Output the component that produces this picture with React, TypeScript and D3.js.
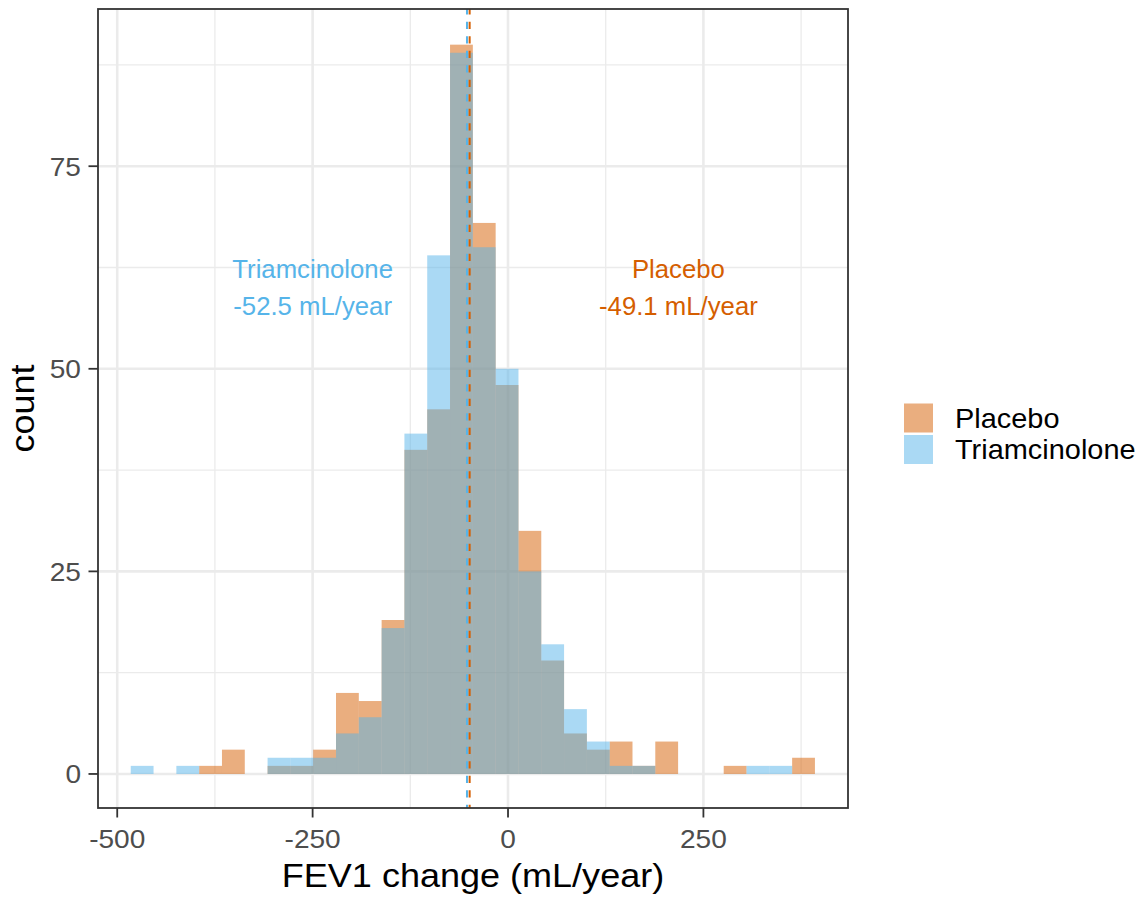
import React from "react";
import * as d3 from "d3";

// Histogram of annual FEV1 change, 30 bins shared by both arms
const BIN_START = -482.7;
const BIN_WIDTH = 29.18;

const GROUPS = ["Placebo", "Triamcinolone"];
const GROUP_COLORS = ["#D55E00", "#56B4E9"];

const PLACEBO_COUNTS = [
  0, 0, 0, 1, 3, 0, 1, 1, 3, 10, 9, 19, 40, 45, 90, 68, 48, 30, 14, 5, 3, 4, 1, 4, 0, 0, 1, 0, 0, 2,
];
const TRIAMCINOLONE_COUNTS = [
  1, 0, 1, 0, 0, 0, 2, 2, 2, 5, 7, 18, 42, 64, 89, 65, 50, 25, 16, 8, 4, 1, 1, 0, 0, 0, 0, 1, 1, 0,
];

// Group means (mL/year) and where their labels sit
const GROUP_MEANS = [-49.1, -52.5];
const LABEL_X = [218, -250];
const LABEL_Y = 60;

const X_TICKS = [-500, -250, 0, 250];
const X_MINOR = [-375, -125, 125, 375];
const Y_TICKS = [0, 25, 50, 75];
const Y_MINOR = [12.5, 37.5, 62.5, 87.5];

const X_TITLE = "FEV1 change (mL/year)";
const Y_TITLE = "count";

const W = 1145;
const H = 902;
const PANEL = { left: 98, right: 848, top: 9, bottom: 808 };
const FONT = "'Liberation Sans', Arial, Helvetica, sans-serif";
const SX = 1.06; // slight horizontal widening of labels

function STxt(props: {
  x: number;
  y: number;
  size: number;
  anchor?: string;
  fill?: string;
  rotate?: number;
  sx?: number;
  children: React.ReactNode;
}) {
  const { x, y, size, anchor = "start", fill = "#000", rotate = 0, sx = SX, children } = props;
  return (
    <text
      transform={`translate(${x},${y}) rotate(${rotate}) scale(${sx},1)`}
      fontSize={size}
      fontFamily={FONT}
      textAnchor={anchor}
      fill={fill}
    >
      {children}
    </text>
  );
}

export default function App() {
  const x = d3.scaleLinear().domain([-524.6, 435]).range([PANEL.left, PANEL.right]);
  const y = d3.scaleLinear().domain([-4.2, 94.4]).range([PANEL.bottom, PANEL.top]);

  const series = [PLACEBO_COUNTS, TRIAMCINOLONE_COUNTS];
  const edges = d3.range(PLACEBO_COUNTS.length + 1).map((i) => BIN_START + i * BIN_WIDTH);

  const grid = "#EBEBEB";

  return (
    <svg
      width={W}
      height={H}
      style={{ position: "absolute", left: 0, top: 0, background: "#fff" }}
    >
      <rect x={0} y={0} width={W} height={H} fill="#fff" />

      {/* grid */}
      <g>
        {X_MINOR.map((v) => (
          <line key={"xm" + v} x1={x(v)} x2={x(v)} y1={PANEL.top} y2={PANEL.bottom} stroke={grid} strokeWidth={1.3} />
        ))}
        {Y_MINOR.map((v) => (
          <line key={"ym" + v} x1={PANEL.left} x2={PANEL.right} y1={y(v)} y2={y(v)} stroke={grid} strokeWidth={1.3} />
        ))}
        {X_TICKS.map((v) => (
          <line key={"xg" + v} x1={x(v)} x2={x(v)} y1={PANEL.top} y2={PANEL.bottom} stroke={grid} strokeWidth={2.6} />
        ))}
        {Y_TICKS.map((v) => (
          <line key={"yg" + v} x1={PANEL.left} x2={PANEL.right} y1={y(v)} y2={y(v)} stroke={grid} strokeWidth={2.6} />
        ))}
      </g>

      {/* histogram bars, semi-transparent and overlapping */}
      {series.map((counts, gi) => (
        <g key={GROUPS[gi]} fill={GROUP_COLORS[gi]} fillOpacity={0.5}>
          {counts.map((c, i) =>
            c > 0 ? (
              <rect
                key={i}
                x={x(edges[i])}
                width={x(edges[i + 1]) - x(edges[i])}
                y={y(c)}
                height={y(0) - y(c)}
              />
            ) : null
          )}
        </g>
      ))}

      {/* group means */}
      {GROUP_MEANS.map((m, gi) => (
        <line
          key={"mean" + gi}
          x1={x(m)}
          x2={x(m)}
          y1={PANEL.top}
          y2={PANEL.bottom}
          stroke={GROUP_COLORS[gi]}
          strokeWidth={2}
          strokeDasharray="7.25 7.25"
          strokeDashoffset={1.8}
        />
      ))}

      {/* mean labels */}
      {GROUPS.map((g, gi) => (
        <g key={"lab" + g}>
          <STxt x={x(LABEL_X[gi])} y={y(LABEL_Y) - 9.9} size={25} anchor="middle" fill={GROUP_COLORS[gi]} sx={1.03}>
            {g}
          </STxt>
          <STxt x={x(LABEL_X[gi])} y={y(LABEL_Y) + 27.4} size={25} anchor="middle" fill={GROUP_COLORS[gi]} sx={1.03}>
            {`${GROUP_MEANS[gi].toFixed(1)} mL/year`}
          </STxt>
        </g>
      ))}

      {/* panel border */}
      <rect
        x={PANEL.left}
        y={PANEL.top}
        width={PANEL.right - PANEL.left}
        height={PANEL.bottom - PANEL.top}
        fill="none"
        stroke="#333333"
        strokeWidth={1.8}
      />

      {/* x axis */}
      {X_TICKS.map((v) => (
        <g key={"xt" + v}>
          <line x1={x(v)} x2={x(v)} y1={PANEL.bottom} y2={PANEL.bottom + 9.5} stroke="#333333" strokeWidth={1.8} />
          <STxt x={x(v)} y={848} size={26.5} anchor="middle" fill="#4D4D4D">
            {String(v)}
          </STxt>
        </g>
      ))}
      <STxt x={(PANEL.left + PANEL.right) / 2} y={887} size={34} anchor="middle">
        {X_TITLE}
      </STxt>

      {/* y axis */}
      {Y_TICKS.map((v) => (
        <g key={"yt" + v}>
          <line x1={PANEL.left - 9.5} x2={PANEL.left} y1={y(v)} y2={y(v)} stroke="#333333" strokeWidth={1.8} />
          <STxt x={81} y={y(v) + 9.3} size={26.5} anchor="end" fill="#4D4D4D">
            {String(v)}
          </STxt>
        </g>
      ))}
      <STxt x={34} y={(PANEL.top + PANEL.bottom) / 2} size={34} anchor="middle" rotate={-90}>
        {Y_TITLE}
      </STxt>

      {/* legend */}
      {GROUPS.map((g, gi) => {
        const top = 403.5 + gi * 31.5;
        return (
          <g key={"leg" + g}>
            <rect x={904} y={top} width={29} height={29} fill={GROUP_COLORS[gi]} fillOpacity={0.5} />
            <STxt x={955} y={top + 24} size={27.3}>
              {g}
            </STxt>
          </g>
        );
      })}
    </svg>
  );
}
